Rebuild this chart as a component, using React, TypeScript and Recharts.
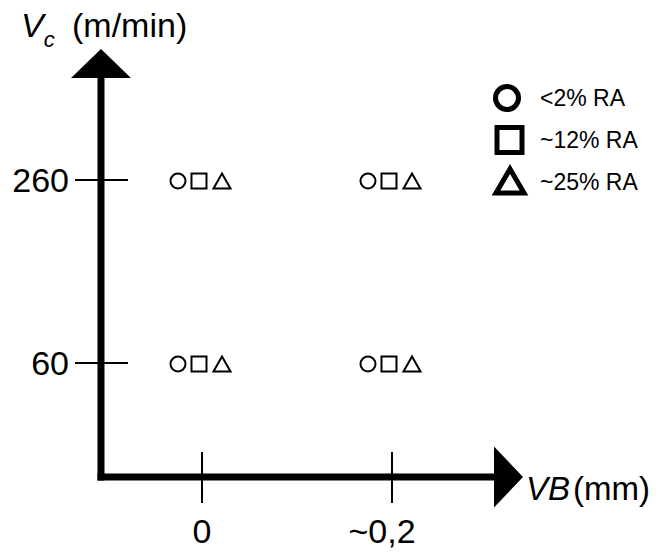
import React from 'react'
import {
  ScatterChart,
  Scatter,
  XAxis,
  YAxis,
  ReferenceLine,
  ReferenceDot,
  Legend,
  Customized,
} from 'recharts'

// design of experiments: tool wear VB vs cutting speed Vc, three RA levels
const vbTicks = [0, 0.2]
const vbTickLabels = ['0', '~0,2']
const vcTicks = [60, 260]
const vcTickLabels = ['60', '260']

const designPoints = [
  { vb: 0, vc: 260 },
  { vb: 0.2, vc: 260 },
  { vb: 0, vc: 60 },
  { vb: 0.2, vc: 60 },
]

const raLevels = ['<2% RA', '~12% RA', '~25% RA']
const raShapes = ['circle', 'square', 'triangle']

// axis extents (arrow tips) and where the shafts meet the arrow heads
const VB_DOMAIN: [number, number] = [-0.1063, 0.3379]
const VC_DOMAIN: [number, number] = [-64.6, 403.2]
const VB_SHAFT_END = 0.3074
const VC_SHAFT_END = 371.5

const FONT = '"Liberation Sans", Arial, Helvetica, sans-serif'
const INK = '#000'

function marker(kind: string, dx: number) {
  return (props: any) => {
    const cx = props.cx + dx
    const cy = props.cy + 1
    if (kind === 'circle') {
      return <circle cx={cx} cy={cy} r={7.5} fill="none" stroke={INK} strokeWidth={2} />
    }
    if (kind === 'square') {
      return <rect x={cx - 7.5} y={cy - 7.5} width={15} height={15} fill="none" stroke={INK} strokeWidth={2} />
    }
    return (
      <path
        d={`M${cx},${cy - 7.5} L${cx + 8.5},${cy + 7.5} L${cx - 8.5},${cy + 7.5} Z`}
        fill="none"
        stroke={INK}
        strokeWidth={2}
      />
    )
  }
}

const markerOffsets = [-24, -3, 20]

function VbTick({ x, y, payload }: any) {
  const i = vbTicks.indexOf(payload.value)
  const label = vbTickLabels[i] ?? String(payload.value)
  const dx = label.startsWith('~') ? -10 : 0
  return (
    <g>
      <line x1={x} x2={x} y1={y - 25} y2={y + 26} stroke={INK} strokeWidth={2} />
      <text x={x + dx} y={y + 66} textAnchor="middle" fontSize={34} fill={INK}>
        {label}
      </text>
    </g>
  )
}

function VcTick({ x, y, payload }: any) {
  const i = vcTicks.indexOf(payload.value)
  const label = vcTickLabels[i] ?? String(payload.value)
  return (
    <g>
      <line x1={x - 26} x2={x + 27} y1={y} y2={y} stroke={INK} strokeWidth={2} />
      <text x={x - 32} y={y + 12} textAnchor="end" fontSize={34} fill={INK}>
        {label}
      </text>
    </g>
  )
}

const arrowRight = (props: any) => (
  <path d={`M${props.cx},${props.cy} L${props.cx - 29},${props.cy - 30.5} L${props.cx - 29},${props.cy + 30.5} Z`} fill={INK} />
)

const arrowUp = (props: any) => (
  <path d={`M${props.cx},${props.cy} L${props.cx - 30},${props.cy + 29} L${props.cx + 30},${props.cy + 29} Z`} fill={INK} />
)

function AxisTitles() {
  return (
    <g fill={INK}>
      <text x={21} y={37} fontSize={34}>
        <tspan fontStyle="italic">V</tspan>
        <tspan fontStyle="italic" fontSize={22} dy={10}>c</tspan>
        <tspan x={72} dy={-10}>(m/min)</tspan>
      </text>
      <text x={526} y={500} fontSize={33}>
        <tspan fontStyle="italic">VB</tspan>
        <tspan dx={3}>(mm)</tspan>
      </text>
    </g>
  )
}

function RaLegend() {
  const rowY = [20, 62, 104]
  return (
    <svg width={175} height={130} style={{ display: 'block', fontFamily: FONT }}>
      {raLevels.map((name, i) => {
        const cy = rowY[i]
        const kind = raShapes[i]
        let icon
        if (kind === 'circle') {
          icon = <circle cx={17} cy={cy} r={11.5} fill="none" stroke={INK} strokeWidth={5} />
        } else if (kind === 'square') {
          icon = <rect x={7} y={cy - 12.5} width={25} height={25} fill="none" stroke={INK} strokeWidth={5} />
        } else {
          icon = (
            <path
              d={`M20,${cy - 13} L34,${cy + 11} L6,${cy + 11} Z`}
              fill="none"
              stroke={INK}
              strokeWidth={5}
              strokeLinejoin="miter"
            />
          )
        }
        return (
          <g key={name}>
            {icon}
            <text x={50} y={cy + 8} fontSize={23} fill={INK}>
              {name}
            </text>
          </g>
        )
      })}
    </svg>
  )
}

export default function App() {
  return (
    <div style={{ position: 'absolute', left: 0, top: 0, width: 665, height: 552, background: '#fff', fontFamily: FONT }}>
      <ScatterChart width={665} height={552} margin={{ top: 49, right: 142, bottom: 0, left: 0 }}>
        <XAxis
          type="number"
          dataKey="vb"
          domain={VB_DOMAIN}
          allowDataOverflow
          ticks={vbTicks}
          interval={0}
          axisLine={false}
          tickLine={false}
          tickSize={0}
          tickMargin={0}
          height={75}
          tick={<VbTick />}
        />
        <YAxis
          type="number"
          dataKey="vc"
          domain={VC_DOMAIN}
          allowDataOverflow
          ticks={vcTicks}
          interval={0}
          axisLine={false}
          tickLine={false}
          tickSize={0}
          tickMargin={0}
          width={101}
          tick={<VcTick />}
        />
        <ReferenceLine
          segment={[
            { x: VB_DOMAIN[0], y: VC_DOMAIN[0] },
            { x: VB_SHAFT_END, y: VC_DOMAIN[0] },
          ]}
          stroke={INK}
          strokeWidth={7}
          strokeLinecap="square"
          ifOverflow="visible"
        />
        <ReferenceLine
          segment={[
            { x: VB_DOMAIN[0], y: VC_DOMAIN[0] },
            { x: VB_DOMAIN[0], y: VC_SHAFT_END },
          ]}
          stroke={INK}
          strokeWidth={7}
          strokeLinecap="square"
          ifOverflow="visible"
        />
        <ReferenceDot x={VB_DOMAIN[1]} y={VC_DOMAIN[0]} shape={arrowRight} ifOverflow="visible" />
        <ReferenceDot x={VB_DOMAIN[0]} y={VC_DOMAIN[1]} shape={arrowUp} ifOverflow="visible" />
        {raLevels.map((name, i) => (
          <Scatter
            key={name}
            name={name}
            data={designPoints}
            shape={marker(raShapes[i], markerOffsets[i])}
            isAnimationActive={false}
          />
        ))}
        <Legend
          layout="vertical"
          verticalAlign="middle"
          align="center"
          content={<RaLegend />}
          wrapperStyle={{ left: 490, top: 78, width: 175, height: 130 }}
        />
        <Customized component={AxisTitles} />
      </ScatterChart>
    </div>
  )
}
